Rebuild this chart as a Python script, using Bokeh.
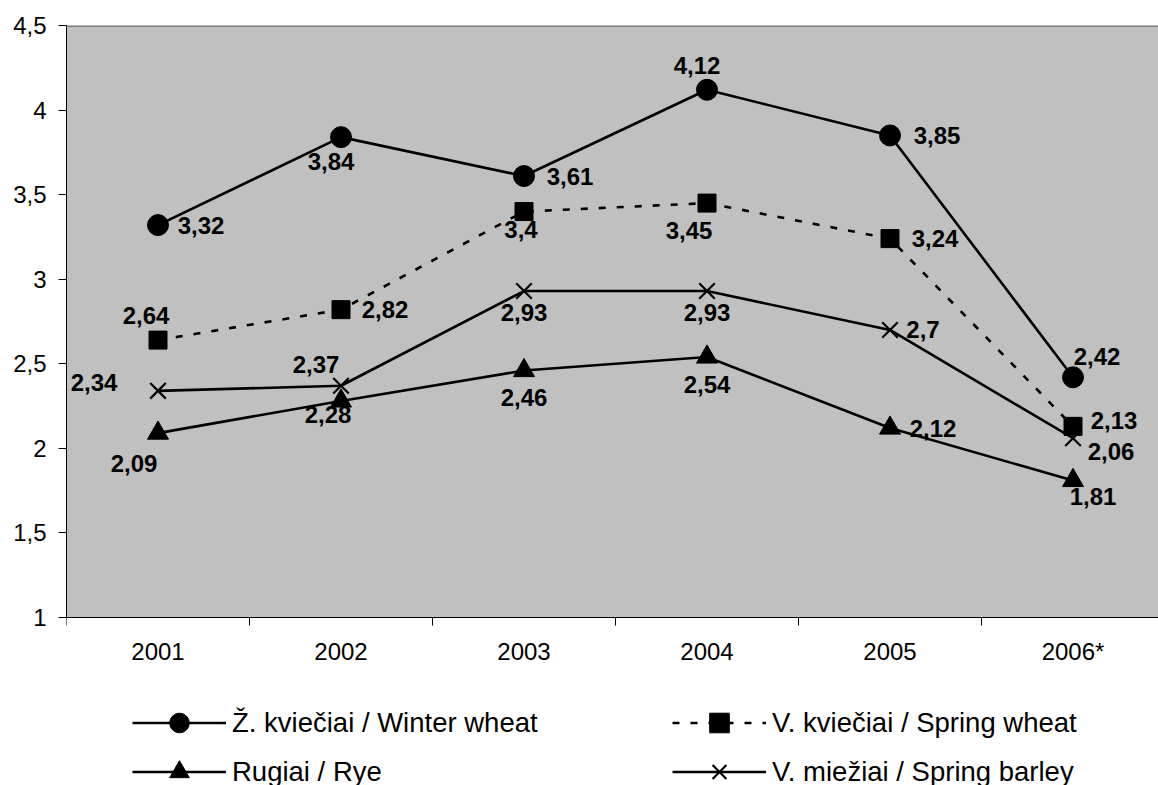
from bokeh.plotting import figure
from bokeh.models import (FixedTicker, CustomJSTickFormatter, Range1d, Legend, LegendItem,
                          ColumnDataSource, Span, BoxAnnotation)
from bokeh.core.properties import value
from bokeh.embed import file_html
from bokeh.resources import INLINE

# ---------------- data ----------------
years = ["2001", "2002", "2003", "2004", "2005", "2006*"]
winter_wheat = [3.32, 3.84, 3.61, 4.12, 3.85, 2.42]
spring_wheat = [2.64, 2.82, 3.40, 3.45, 3.24, 2.13]
rye = [2.09, 2.28, 2.46, 2.54, 2.12, 1.81]
spring_barley = [2.34, 2.37, 2.93, 2.93, 2.70, 2.06]

names = ["Ž. kviečiai / Winter wheat", "V. kviečiai / Spring wheat",
         "Rugiai / Rye", "V. miežiai / Spring barley"]

y_ticks = [1, 1.5, 2, 2.5, 3, 3.5, 4, 4.5]

# label offsets (screen px, +y = down)
ww_off = [(43, 0), (-10, 24), (46, 0), (-10, -24), (47, 0), (24, -21)]
sw_off = [(-12, -25), (44, 0), (-3, 18), (-18, 27), (45, 0), (41, -6)]
ry_off = [(-24, 30), (-13, 14), (0, 27), (0, 27), (43, 0), (20, 16)]
sb_off = [(-64, -8), (-25, -21), (0, 21), (0, 21), (33, 0), (38, 13)]

FONT = "Liberation Sans"

xs = [i + 0.5 for i in range(len(years))]

# frame: data area 592 px tall for 1..4.5, frame extends down to hold the legend
FRAME_H = 760
Y_TOP = 4.5
Y_BOT = Y_TOP - FRAME_H * (4.5 - 1) / 592

p = figure(frame_width=1092, frame_height=FRAME_H,
           x_range=Range1d(0, 1092 / 183), y_range=Range1d(Y_BOT, Y_TOP),
           output_backend="svg", toolbar_location=None,
           min_border_left=66, min_border_right=0, min_border_top=25, min_border_bottom=0)
p.background_fill_color = "white"
p.border_fill_color = "white"
p.outline_line_color = None
p.xgrid.visible = False
p.ygrid.visible = False

p.add_layout(BoxAnnotation(left=0, right=10, bottom=1, top=4.5, fill_color="#C0C0C0",
                           fill_alpha=1, line_color=None, level="underlay"))
p.add_layout(Span(location=4.5, dimension="width", line_color="#808080", line_width=3))

# axes
p.yaxis.ticker = FixedTicker(ticks=y_ticks)
p.yaxis.bounds = (1, 4.5)
p.yaxis.formatter = CustomJSTickFormatter(code="return tick.toString().replace('.', ',');")
p.yaxis.major_tick_out = 8
p.yaxis.major_tick_in = 0
p.yaxis.minor_tick_line_color = None
p.yaxis.major_label_standoff = 12
p.yaxis.axis_line_color = "black"
p.yaxis.major_tick_line_color = "black"
p.yaxis.major_label_text_font = FONT
p.yaxis.major_label_text_font_size = "24px"
p.yaxis.major_label_text_color = "black"

p.xaxis.fixed_location = 1
p.xaxis.ticker = FixedTicker(ticks=xs, minor_ticks=list(range(len(years))))
p.xaxis.formatter = CustomJSTickFormatter(args=dict(labels=years),
                                          code="return labels[Math.floor(tick)];")
p.xaxis.major_tick_line_color = None
p.xaxis.major_tick_out = 0
p.xaxis.major_tick_in = 0
p.xaxis.minor_tick_out = 8
p.xaxis.minor_tick_in = 0
p.xaxis.minor_tick_line_color = "black"
p.xaxis.major_label_standoff = 12
p.xaxis.axis_line_color = "black"
p.xaxis.major_label_text_font = FONT
p.xaxis.major_label_text_font_size = "24px"
p.xaxis.major_label_text_color = "black"

series = [
    (winter_wheat, "circle", 21, None, ww_off),
    (spring_wheat, "square", 18, "7 11", sw_off),
    (rye, "triangle", 21, None, ry_off),
    (spring_barley, "x", 22, None, sb_off),
]

rends = []
for vals, marker, size, dash, offs in series:
    src = ColumnDataSource(dict(
        x=xs, y=vals,
        label=[f"{v:g}".replace(".", ",") for v in vals],
        dx=[o[0] for o in offs], dy=[o[1] for o in offs]))
    if dash:
        lr = p.line("x", "y", source=src, line_color="black", line_width=2.6, line_dash=dash)
    else:
        lr = p.line("x", "y", source=src, line_color="black", line_width=2.6)
    if marker == "x":
        sr = p.scatter("x", "y", source=src, marker=marker, size=size,
                       line_color="black", line_width=2.2)
    else:
        sr = p.scatter("x", "y", source=src, marker=marker, size=size,
                       fill_color="black", line_color="black")
    rends.append((lr, sr, src))

for lr, sr, src in rends:
    p.text("x", "y", text="label", source=src, x_offset="dx", y_offset="dy",
           text_font=value(FONT), text_font_style="bold", text_font_size="24px",
           text_align="center", text_baseline="middle", text_color="black")

def mk_legend(idx, vx):
    items = [LegendItem(label=names[i], renderers=[rends[i][0], rends[i][1]]) for i in idx]
    lg = Legend(items=items, location=(vx, -11), orientation="vertical",
                glyph_width=94, glyph_height=49, spacing=0, padding=0, margin=0,
                label_standoff=6, label_text_font=FONT, label_text_font_size="27.5px",
                label_text_color="black", border_line_color=None,
                background_fill_alpha=0)
    return lg

p.add_layout(mk_legend([0, 2], 66), "center")
p.add_layout(mk_legend([1, 3], 606), "center")

open("out.html", "w").write(file_html(p, INLINE))
